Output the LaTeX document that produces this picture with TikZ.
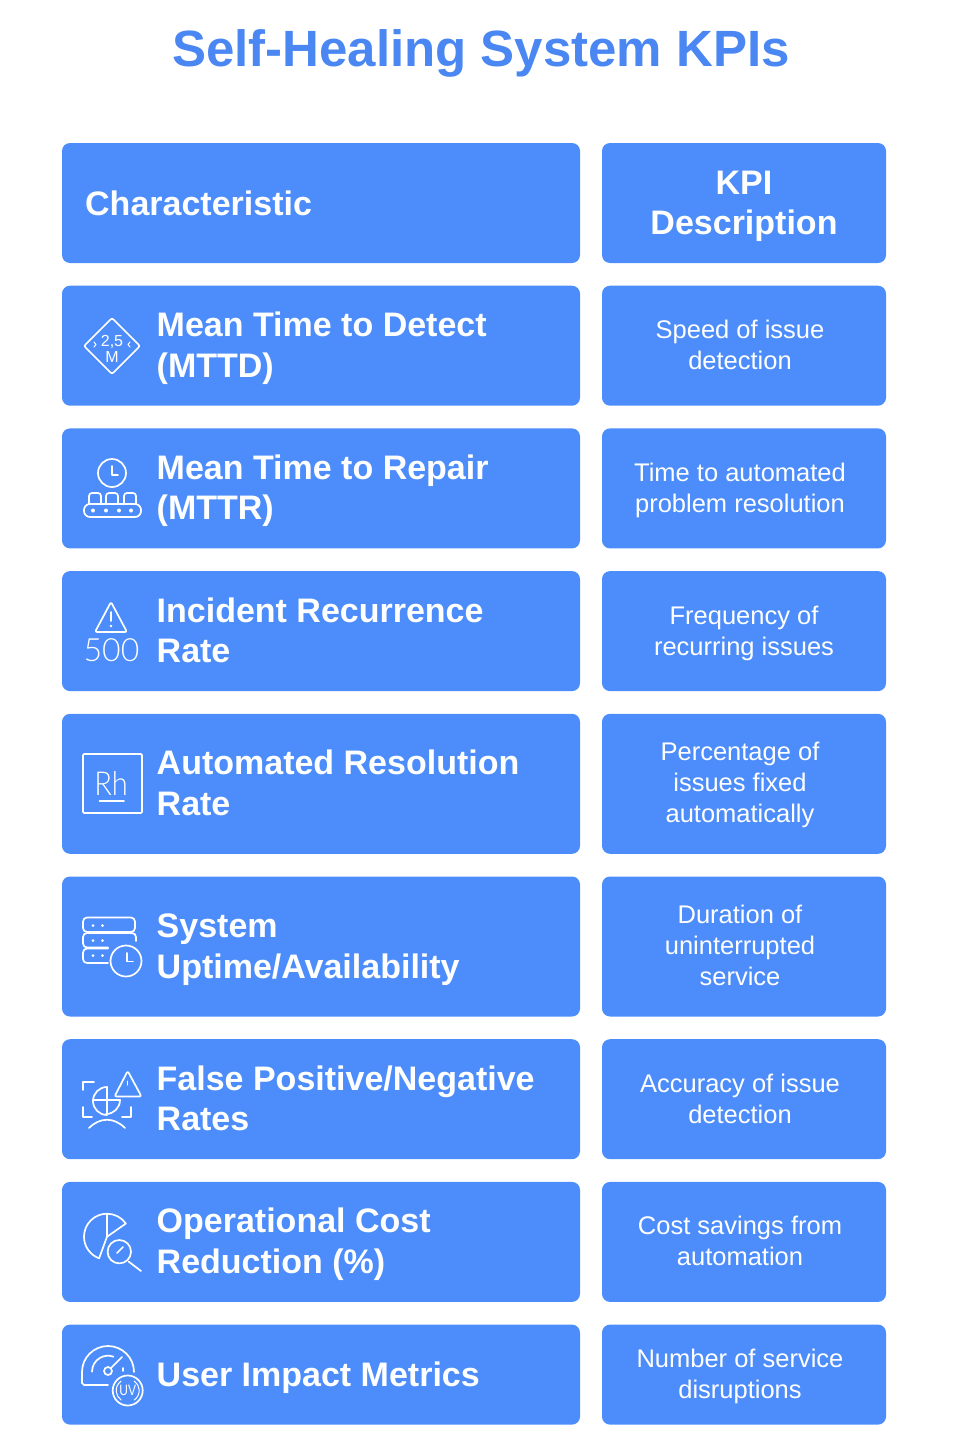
\documentclass[tikz,border=0pt]{standalone}
\usepackage{fontspec}
\setmainfont{Liberation Sans}
\newfontfamily\thinfont{Lato Light}
\usepackage{xcolor}
\usetikzlibrary{positioning}
\definecolor{kpiblue}{HTML}{4C8DFB}
\definecolor{titleblue}{HTML}{4A87F2}

\begin{document}
\begin{tikzpicture}[
    x=1pt, y=1pt,
    node distance=22.7pt and 22pt,
    cbox/.style={fill=kpiblue, rounded corners=8pt, minimum width=518pt, inner sep=0pt, outer sep=0pt},
    kbox/.style={fill=kpiblue, rounded corners=8pt, minimum width=284pt, inner sep=0pt, outer sep=0pt},
    kpiname/.style={font=\fontsize{34}{40.5}\selectfont\bfseries, text=white, align=left, anchor=base west, inner sep=0pt},
    desc/.style={font=\fontsize{25.5}{31}\selectfont, text=white, align=center, anchor=base, inner sep=0pt},
    oneline/.style={yshift=-12pt},
    twoline/.style={yshift=-31.5pt},
    desctwo/.style={yshift=-24pt},
    descthree/.style={yshift=-39pt},
    icon/.style={draw=white, line width=1.7pt, line cap=round, line join=round},
    icontext/.style={text=white, inner sep=0pt}
]
    \useasboundingbox (0,0) rectangle (962,-1456);

    \node[font=\fontsize{51}{60}\selectfont\bfseries, text=titleblue, inner sep=0pt] (title) at (481,-53) {Self-Healing System KPIs};

    % left column
    \node[cbox, minimum height=120pt, anchor=north west] (head) at (62,-143) {};
    \node[cbox, minimum height=120pt, below=of head] (mttd) {};
    \node[cbox, minimum height=120pt, below=of mttd] (mttr) {};
    \node[cbox, minimum height=120pt, below=of mttr] (recur) {};
    \node[cbox, minimum height=140pt, below=of recur] (resol) {};
    \node[cbox, minimum height=140pt, below=of resol] (uptime) {};
    \node[cbox, minimum height=120pt, below=of uptime] (fpos) {};
    \node[cbox, minimum height=120pt, below=of fpos] (cost) {};
    \node[cbox, minimum height=100pt, below=of cost] (user) {};

    % right column
    \node[kbox, minimum height=120pt, right=of head] (khead) {};
    \node[kbox, minimum height=120pt, right=of mttd] (kmttd) {};
    \node[kbox, minimum height=120pt, right=of mttr] (kmttr) {};
    \node[kbox, minimum height=120pt, right=of recur] (krecur) {};
    \node[kbox, minimum height=140pt, right=of resol] (kresol) {};
    \node[kbox, minimum height=140pt, right=of uptime] (kuptime) {};
    \node[kbox, minimum height=120pt, right=of fpos] (kfpos) {};
    \node[kbox, minimum height=120pt, right=of cost] (kcost) {};
    \node[kbox, minimum height=100pt, right=of user] (kuser) {};

    % characteristic labels
    \node[kpiname, oneline] (thead) at ([xshift=23pt]head.west) {Characteristic};
    \node[kpiname, twoline] (tmttd) at ([xshift=94.5pt]mttd.west) {Mean Time to Detect\\(MTTD)};
    \node[kpiname, twoline] (tmttr) at ([xshift=94.5pt]mttr.west) {Mean Time to Repair\\(MTTR)};
    \node[kpiname, twoline] (trecur) at ([xshift=94.5pt]recur.west) {Incident Recurrence\\Rate};
    \node[kpiname, twoline] (tresol) at ([xshift=94.5pt]resol.west) {Automated Resolution\\Rate};
    \node[kpiname, twoline] (tuptime) at ([xshift=94.5pt]uptime.west) {System\\Uptime/Availability};
    \node[kpiname, twoline] (tfpos) at ([xshift=94.5pt]fpos.west) {False Positive/Negative\\Rates};
    \node[kpiname, twoline] (tcost) at ([xshift=94.5pt]cost.west) {Operational Cost\\Reduction (\%)};
    \node[kpiname, oneline] (tuser) at ([xshift=94.5pt]user.west) {User Impact Metrics};

    % descriptions
    \node[kpiname, twoline, anchor=base, align=center] (dhead) at (khead.center) {KPI\\Description};
    \node[desc, desctwo] (dmttd) at ([xshift=-4pt]kmttd.center) {Speed of issue\\detection};
    \node[desc, desctwo] (dmttr) at ([xshift=-4pt]kmttr.center) {Time to automated\\problem resolution};
    \node[desc, desctwo] (drecur) at (krecur.center) {Frequency of\\recurring issues};
    \node[desc, descthree] (dresol) at ([xshift=-4pt]kresol.center) {Percentage of\\issues fixed\\automatically};
    \node[desc, descthree] (duptime) at ([xshift=-4pt]kuptime.center) {Duration of\\uninterrupted\\service};
    \node[desc, desctwo] (dfpos) at ([xshift=-4pt]kfpos.center) {Accuracy of issue\\detection};
    \node[desc, desctwo] (dcost) at ([xshift=-4pt]kcost.center) {Cost savings from\\automation};
    \node[desc, desctwo] (duser) at ([xshift=-4pt]kuser.center) {Number of service\\disruptions};

    % icon MTTD
    \draw[icon, rounded corners=2pt] (84,-346) -- (112,-318) -- (140,-346) -- (112,-374) -- cycle;
    \node[icontext, font=\fontsize{16}{16}\selectfont] (itwo) at (112,-342) {2,5};
    \node[icontext, font=\fontsize{16}{16}\selectfont] (im) at (112,-356.5) {M};
    \draw[icon, line width=1pt] (94,-342) -- (96,-344.5) -- (94,-347);
    \draw[icon, line width=1pt] (130,-342) -- (128,-344.5) -- (130,-347);

    % icon MTTR
    \draw[icon] (112,-473) circle (14);
    \draw[icon] (112,-466) -- (112,-475) -- (118,-475);
    \foreach \bx in {89,106,124}
        \draw[icon, rounded corners=3pt] (\bx,-504) -- (\bx,-493) -- (\bx+12,-493) -- (\bx+12,-504);
    \draw[icon, rounded corners=6pt] (84,-504) rectangle (141,-517);
    \foreach \dx in {93,106,119,131}
        \fill[white] (\dx,-510.5) circle (2);

    % icon recurrence
    \draw[icon, rounded corners=2pt] (111,-602) -- (127,-632) -- (95,-632) -- cycle;
    \draw[icon] (111,-612) -- (111,-621);
    \fill[white] (111,-626) circle (1.3);
    \node[icontext, font=\thinfont\fontsize{32}{32}\selectfont] (ifive) at (111.5,-650) {500};

    % icon resolution
    \draw[icon, rounded corners=1pt] (83,-754) rectangle (142,-813);
    \node[icontext, font=\thinfont\fontsize{33}{33}\selectfont, xscale=0.88] (irh) at (111,-783) {Rh};
    \draw[icon] (99.5,-801) -- (124,-801);

    % icon uptime
    \draw[icon, rounded corners=4pt] (135,-932) -- (83,-932) -- (83,-917.5) -- (135,-917.5) -- cycle;
    \draw[icon, rounded corners=4pt] (136,-941) -- (136,-933) -- (83,-933) -- (83,-947.5) -- (108,-947.5);
    \draw[icon, rounded corners=4pt] (108,-948.5) -- (83,-948.5) -- (83,-963) -- (108,-963);
    \foreach \sy in {-925.5,-940.5,-955.5}
        \foreach \sx in {93,102.5}
            \fill[white] (\sx,\sy) circle (1.5);
    \draw[icon] (126,-961) circle (15.5);
    \draw[icon] (127,-953) -- (127,-961.5) -- (133,-961.5);

    % icon false rates
    \draw[icon, rounded corners=2pt] (127.7,-1071) -- (141.5,-1096.5) -- (114.5,-1096.5) -- cycle;
    \draw[icon, line width=1pt] (127.7,-1081) -- (127.7,-1085);
    \draw[icon] (107,-1087) arc (90:270:14);
    \draw[icon] (107,-1087) -- (107,-1114);
    \draw[icon] (93.5,-1100) -- (120,-1100);
    \draw[icon] (120,-1100) arc (0:-90:14);
    \draw[icon] (83,-1090) -- (83,-1082) -- (94,-1082);
    \draw[icon] (83,-1107) -- (83,-1117) -- (92,-1117);
    \draw[icon] (131,-1107) -- (131,-1117) -- (122,-1117);
    \draw[icon] (89,-1128) .. controls (100,-1117) and (114,-1117) .. (125,-1128);

    % icon cost
    \draw[icon] (107,-1213.7) arc (90:250:23);
    \draw[icon] (107,-1213.7) -- (107,-1236.7) -- (99.1,-1258.3);
    \draw[icon] (107,-1213.7) arc (90:35:23) -- (107,-1236.7);
    \draw[icon] (119.3,-1251.7) circle (11.7);
    \draw[icon] (128.5,-1261.5) -- (141,-1271);
    \draw[icon] (117,-1253) -- (123,-1247);

    % icon user impact
    \draw[icon] (134,-1372) arc (0:180:26) -- (82,-1383) -- (84,-1385) -- (108,-1385);
    \draw[icon] (92,-1371.7) arc (180:70:16);
    \draw[icon] (108,-1371) circle (4);
    \draw[icon] (111,-1368) -- (122,-1357);
    \draw[icon] (123,-1368) -- (123,-1371);
    \draw[icon] (127.7,-1390.5) circle (15);
    \draw[icon, line width=1pt] (127.7,-1390.5) ++(125:11.5) arc (125:235:11.5);
    \draw[icon, line width=1pt] (127.7,-1390.5) ++(-55:11.5) arc (-55:55:11.5);
    \node[icontext, font=\fontsize{15}{15}\selectfont, xscale=0.8] (iuv) at (127.7,-1390.5) {UV};
\end{tikzpicture}
\end{document}
